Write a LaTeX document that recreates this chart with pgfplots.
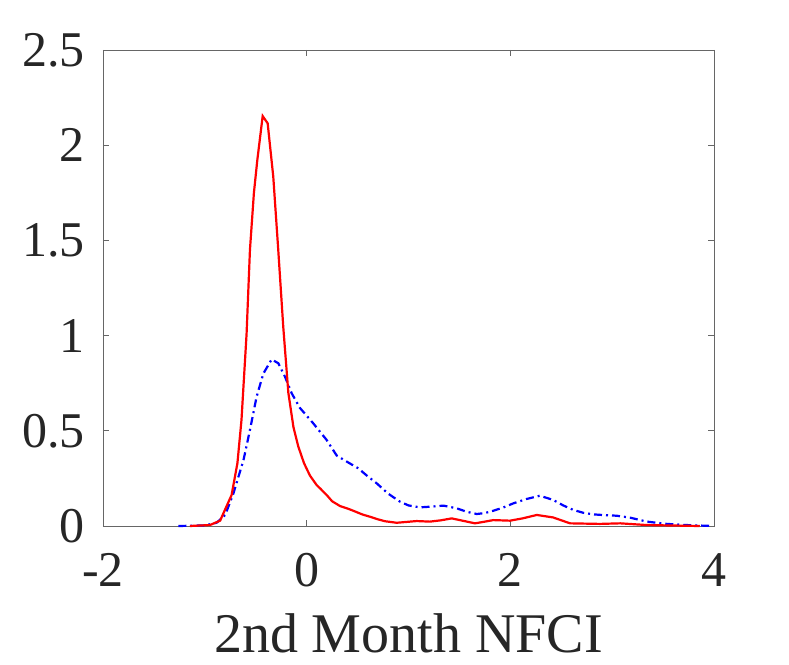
\documentclass[border=0pt]{standalone}
\usepackage{fontspec}
\setmainfont{Liberation Serif}
\usepackage{pgfplots}
\pgfplotsset{compat=1.18}
\begin{document}
\begin{tikzpicture}
\begin{axis}[
  scale only axis,
  width=611pt, height=476pt,
  xmin=-2, xmax=4, ymin=0, ymax=2.5,
  xtick={-2,0,2,4}, xticklabels={-2,0,2,4},
  ytick={0,0.5,1,1.5,2,2.5}, yticklabels={0,0.5,1,1.5,2,2.5},
  tick align=inside, xtick pos=both, ytick pos=both,
  xticklabel pos=left, yticklabel pos=left,
  major tick length=6pt,
  axis line style={black!60, line width=0.9pt},
  tick style={black!60, line width=0.9pt},
  tick label style={font=\fontsize{50}{55}\selectfont, inner sep=0pt, text=black!85},
  xticklabel style={anchor=north, yshift=-27pt},
  yticklabel style={anchor=east, xshift=-18pt},
  xlabel={2nd Month NFCI},
  xlabel style={font=\fontsize{56}{60}\selectfont, inner sep=0pt, text=black!85, at={(axis description cs:0.5,0)}, anchor=base, yshift=-126pt},
  clip=false,
]
\coordinate (O) at (rel axis cs:0,0);
\addplot[blue, line width=2.2pt, dash pattern=on 8pt off 4pt on 2pt off 4pt] coordinates {
(-1.26,0) (-1.0,0.003) (-0.884,0.017) (-0.80,0.058) (-0.72,0.17) (-0.62,0.347)
(-0.557,0.504) (-0.491,0.68) (-0.426,0.80) (-0.344,0.875) (-0.279,0.855)
(-0.213,0.784) (-0.147,0.697) (-0.066,0.62) (0.065,0.539) (0.196,0.452)
(0.295,0.37) (0.41,0.333) (0.507,0.303) (0.59,0.265) (0.688,0.224) (0.8,0.17)
(0.916,0.128) (1.0,0.108) (1.113,0.098) (1.23,0.102) (1.342,0.107) (1.473,0.093)
(1.57,0.075) (1.67,0.063) (1.75,0.068) (1.833,0.080) (1.93,0.097) (2.03,0.119)
(2.16,0.142) (2.29,0.159) (2.42,0.137) (2.52,0.108) (2.62,0.084) (2.72,0.069)
(2.815,0.061) (2.93,0.057) (3.045,0.054) (3.176,0.044) (3.34,0.023) (3.536,0.011)
(3.73,0.005) (3.99,0)
};
\addplot[red, line width=2.2pt] coordinates {
(-1.146,0) (-0.95,0.005) (-0.85,0.028) (-0.737,0.163) (-0.68,0.33) (-0.64,0.557)
(-0.59,1.01) (-0.557,1.45) (-0.518,1.75) (-0.485,1.92) (-0.432,2.153) (-0.383,2.115)
(-0.328,1.835) (-0.279,1.45) (-0.23,1.047) (-0.18,0.70) (-0.13,0.52) (-0.082,0.417)
(-0.026,0.33) (0.032,0.265) (0.098,0.215) (0.131,0.198) (0.196,0.163) (0.25,0.13)
(0.327,0.105) (0.41,0.09) (0.458,0.080) (0.55,0.06) (0.62,0.049) (0.70,0.035)
(0.77,0.025) (0.884,0.017) (1.08,0.026) (1.21,0.023) (1.32,0.03) (1.424,0.040)
(1.53,0.028) (1.653,0.014) (1.74,0.022) (1.833,0.031) (1.997,0.028) (2.12,0.04)
(2.26,0.058) (2.42,0.045) (2.586,0.014) (2.88,0.011) (3.08,0.014) (3.34,0.005) (3.86,0)
};
\end{axis}
\path ([shift={(-103pt,-138pt)}]O) rectangle ++(789pt,664pt);
\end{tikzpicture}
\end{document}
